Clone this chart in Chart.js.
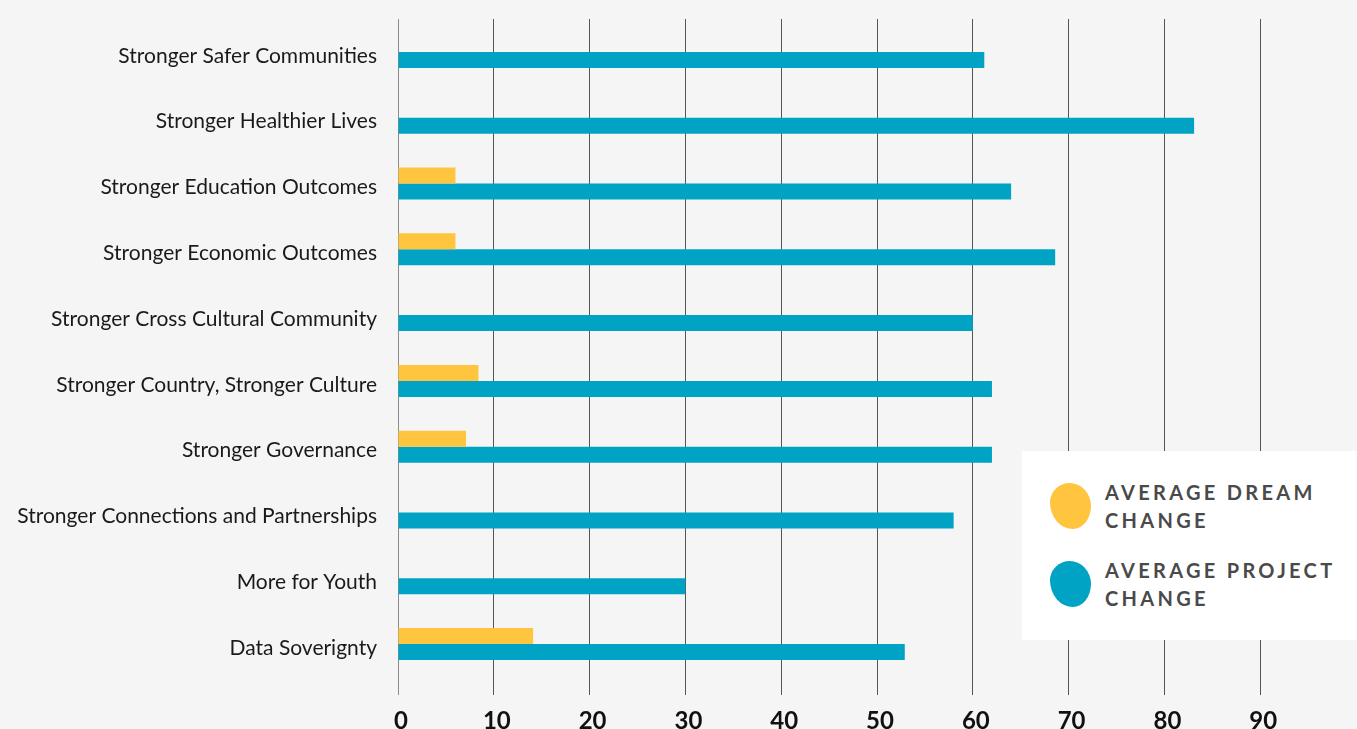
<!DOCTYPE html>
<html>
<head>
<meta charset="utf-8">
<script src="https://cdn.jsdelivr.net/npm/chart.js@4"></script>
<style>
  html, body { margin: 0; padding: 0; background: #f5f5f5; }
  #wrap { position: relative; width: 1357px; height: 729px; overflow: hidden; }
  #legend {
    position: absolute; left: 1022px; top: 451px; width: 335px; height: 189px;
    background: #fff; font-family: Lato, "Open Sans", sans-serif; font-weight: 700;
    font-size: 20px; letter-spacing: 3.3px; color: #4a4a4a; line-height: 28px;
  }
  .item { position: absolute; left: 28px; display: flex; align-items: center; }
  .blob { width: 41px; height: 46px; margin-right: 14px;
    border-radius: 48% 52% 44% 56% / 42% 50% 50% 58%; }
</style>
</head>
<body>
<div id="wrap">
  <canvas id="bar-chart" width="1357" height="729"></canvas>
  <div id="legend"></div>
</div>
<script>
var categories = [
  "Stronger Safer Communities",
  "Stronger Healthier Lives",
  "Stronger Education Outcomes",
  "Stronger Economic Outcomes",
  "Stronger Cross Cultural Community",
  "Stronger Country, Stronger Culture",
  "Stronger Governance",
  "Stronger Connections and Partnerships",
  "More for Youth",
  "Data Soverignty"
];
var dreamChange = [0, 0, 6, 6, 0, 8.4, 7.1, 0, 0, 14.1];
var projectChange = [61.2, 83.1, 64, 68.6, 60, 62, 62, 58, 30, 52.9];
var xTicks = [0, 10, 20, 30, 40, 50, 60, 70, 80, 90];

var seriesNames = ["AVERAGE DREAM CHANGE", "AVERAGE PROJECT CHANGE"];
var colours = ["#ffc53f", "#00a3c4"];

// legend box sits over the right side of the plot
var legend = document.getElementById('legend');
[["AVERAGE DREAM", "CHANGE", 27], ["AVERAGE PROJECT", "CHANGE", 105]].forEach(function(l, i) {
  var el = document.createElement('div');
  el.className = 'item';
  el.style.top = l[2] + 'px';
  el.innerHTML = '<div class="blob" style="background:' + colours[i] + '"></div>' +
                 '<div>' + l[0] + '<br>' + l[1] + '</div>';
  legend.appendChild(el);
});

new Chart(document.getElementById("bar-chart"), {
  type: 'bar',
  data: {
    labels: categories,
    datasets: [
      { label: seriesNames[0], data: dreamChange, backgroundColor: colours[0], barThickness: 16, inflateAmount: 0 },
      { label: seriesNames[1], data: projectChange, backgroundColor: colours[1], barThickness: 16, inflateAmount: 0 }
    ]
  },
  options: {
    indexAxis: 'y',
    responsive: false,
    animation: false,
    layout: { padding: { top: 0, right: 1, left: 0, bottom: 0 } },
    plugins: { legend: { display: false }, tooltip: { enabled: false } },
    scales: {
      x: {
        min: 0, max: 100,
        afterBuildTicks: function(s) { s.ticks = s.ticks.filter(function(t) { return t.value <= 100; }); },
        afterFit: function(s) { s.height = 52; s.paddingLeft = 0; s.paddingRight = 0; },
        border: { display: false },
        grid: {
          color: function(c) {
            if (c.tick && c.tick.value === 0) return '#8c8c8c';
            if (c.tick && xTicks.indexOf(c.tick.value) < 0) return 'rgba(0,0,0,0)';
            return '#555555';
          },
          tickLength: 18
        },
        ticks: {
          stepSize: 10,
          padding: 12,
          labelOffset: 3,
          color: '#111111',
          font: { family: 'Lato', size: 24, weight: 'bold' },
          callback: function(v) { return xTicks.indexOf(v) >= 0 ? v : ''; }
        }
      },
      y: {
        afterFit: function(s) { s.width = 398; s.paddingTop = 19; s.paddingBottom = 0; },
        border: { display: false },
        grid: { display: false },
        ticks: {
          padding: 13,
          labelOffset: 4,
          color: '#1a1a1a',
          font: { family: 'Lato', size: 21 }
        }
      }
    }
  }
});
</script>
</body>
</html>
